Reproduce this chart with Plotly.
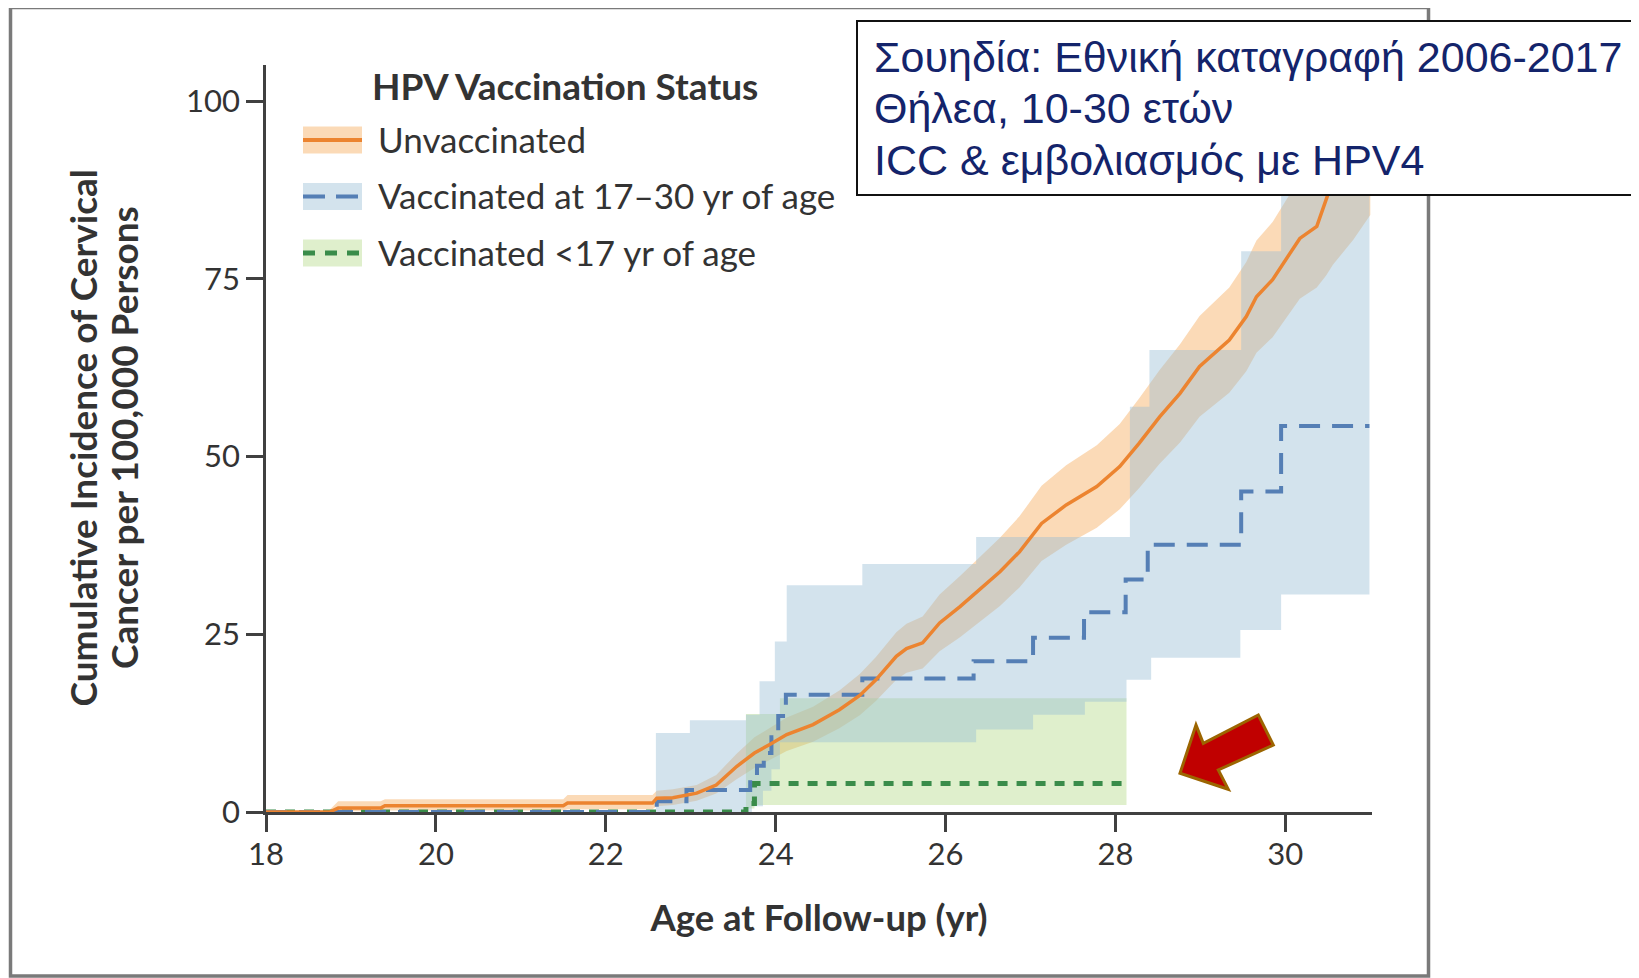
import plotly.graph_objects as go

# ---------------- data ----------------
# Unvaccinated: cumulative incidence curve and 95% band
age_unvacc = [18.00, 18.75, 18.85, 19.35, 19.40, 21.50, 21.55, 22.55, 22.60, 22.79,
              23.07, 23.30, 23.54, 23.75, 23.93, 24.13, 24.44, 24.75, 24.99, 25.18,
              25.42, 25.54, 25.73, 25.93, 26.17, 26.40, 26.64, 26.87, 27.13, 27.42,
              27.78, 28.05, 28.28, 28.52, 28.76, 28.99, 29.34, 29.54, 29.66, 29.85,
              30.00, 30.17, 30.37, 30.48, 30.56, 30.80, 31.00]
inc_unvacc = [0.0, 0.0, 0.55, 0.55, 0.87, 0.87, 1.25, 1.25, 1.95, 2.0,
              2.65, 3.8, 6.4, 8.3, 9.5, 10.9, 12.3, 14.4, 16.4, 18.6,
              21.9, 23.0, 23.8, 26.6, 28.9, 31.3, 33.8, 36.6, 40.6, 43.2,
              45.8, 48.6, 51.9, 55.6, 58.9, 62.7, 66.4, 69.7, 72.5, 74.9,
              77.7, 80.7, 82.4, 86.1, 88.9, 95.0, 101.0]
band_age_unvacc = [18.75, 18.85, 19.35, 19.40, 21.50, 21.55, 22.55, 22.60, 22.79, 23.07,
                   23.30, 23.54, 23.75, 23.93, 24.13, 24.44, 24.75, 24.99, 25.18, 25.42,
                   25.54, 25.73, 25.93, 26.17, 26.40, 26.64, 26.87, 27.13, 27.42, 27.78,
                   28.05, 28.28, 28.52, 28.76, 28.99, 29.34, 29.54, 29.66, 29.85, 30.00,
                   30.17, 30.37, 30.48, 30.56, 30.80, 31.00]
lo_unvacc = [0.0, 0.1, 0.1, 0.2, 0.2, 0.4, 0.4, 0.8, 1.0, 1.6,
             2.6, 4.6, 6.2, 7.3, 8.6, 9.9, 11.8, 13.6, 15.6, 18.6,
             19.6, 20.2, 22.6, 24.6, 26.8, 29.0, 31.6, 35.3, 37.6, 40.0,
             42.6, 45.6, 49.0, 52.0, 55.6, 59.0, 62.0, 64.6, 66.8, 69.4,
             72.2, 73.8, 75.5, 77.0, 80.5, 84.0]
hi_unvacc = [0.3, 1.5, 1.5, 1.8, 1.8, 2.4, 2.4, 3.0, 3.2, 3.8,
             5.2, 8.2, 10.5, 11.8, 13.3, 14.8, 17.1, 19.4, 21.8, 25.3,
             26.5, 27.5, 30.6, 33.2, 35.8, 38.6, 41.6, 45.9, 48.8, 51.6,
             54.6, 58.2, 62.2, 65.8, 69.8, 73.8, 77.4, 80.4, 83.0, 86.0,
             89.2, 91.0, 94.8, 97.8, 104.0, 111.0]

# Vaccinated at 17-30 yr of age (step curve) and band
age_vacc_17_30 = [18.0, 22.60, 22.95, 23.70, 23.78, 23.86, 23.95, 24.03, 24.12, 25.02,
                  26.33, 27.03, 27.63, 28.12, 28.38, 29.48, 29.95, 30.99]
inc_vacc_17_30 = [0.0, 1.5, 3.1, 4.5, 6.5, 8.3, 10.5, 13.5, 16.5, 18.8,
                  21.2, 24.5, 28.1, 32.7, 37.6, 45.1, 54.3, 54.3]
lo_age_17_30 = [22.59, 23.72, 23.85, 23.95, 24.05, 26.36, 27.03, 27.64, 28.13, 28.42, 29.47, 29.95, 30.99]
lo_vacc_17_30 = [0.0, 0.8, 3.0, 6.0, 9.8, 11.6, 13.7, 15.5, 18.6, 21.7, 25.6, 30.6, 30.6]
hi_age_17_30 = [22.59, 22.99, 23.65, 23.81, 23.99, 24.13, 25.02, 26.36, 28.17, 28.40, 29.48, 29.95, 30.99]
hi_vacc_17_30 = [11.1, 12.9, 13.7, 18.4, 24.0, 31.9, 34.9, 38.7, 57.0, 65.0, 78.9, 120.0, 120.0]

# Vaccinated <17 yr of age (step curve) and band
age_vacc_u17 = [18.0, 23.65, 23.75, 28.13]
inc_vacc_u17 = [0.0, 1.2, 4.0, 4.0]
lo_age_u17 = [23.65, 23.75, 28.13]
lo_vacc_u17 = [0.5, 1.0, 1.0]
hi_age_u17 = [23.65, 24.05, 28.13]
hi_vacc_u17 = [13.8, 16.0, 16.0]

x_ticks = [18, 20, 22, 24, 26, 28, 30]
y_ticks = [0, 25, 50, 75, 100]

series_names = ["Unvaccinated", "Vaccinated at 17\u201330 yr of age", "Vaccinated <17 yr of age"]
legend_title = "HPV Vaccination Status"
x_title = "Age at Follow-up (yr)"
y_title_lines = ["Cumulative Incidence of Cervical", "Cancer per 100,000 Persons"]
box_lines = ["Σουηδία: Εθνική καταγραφή 2006-2017", "Θήλεα, 10-30 ετών", "ICC & εμβολιασμός με HPV4"]

# ---------------- layout geometry (page pixels; page has an 8px body margin) ----------------
OFF = 8
W, H = 1639 - OFF, 978 - OFF
ML = 266 - OFF
MT = 65 - OFF
MR = W - (1372 - OFF)
MB = H - (812 - OFF)
PW = W - ML - MR
PH = H - MT - MB


def px(x):
    """page x pixel -> paper coordinate"""
    return (x - OFF - ML) / PW


def py(y):
    """page y pixel -> paper coordinate"""
    return (H - MB - (y - OFF)) / PH


ORANGE = "#EC8430"
ORANGE_BAND = "rgba(246,168,84,0.42)"
BLUE = "#557FB5"
BLUE_BAND = "rgba(150,188,212,0.42)"
GREEN = "#3A8C4A"
GREEN_BAND = "rgba(170,212,120,0.38)"
TXT = "#333333"
FONT = "Lato, 'Open Sans', sans-serif"

fig = go.Figure()


def add_band(xl, yl, xh, yh, color, shape):
    fig.add_trace(go.Scatter(x=xl, y=yl, mode="lines", line=dict(width=0, shape=shape),
                             hoverinfo="skip", showlegend=False))
    fig.add_trace(go.Scatter(x=xh, y=yh, mode="lines", line=dict(width=0, shape=shape),
                             fill="tonexty", fillcolor=color, hoverinfo="skip", showlegend=False))


add_band(band_age_unvacc, lo_unvacc, band_age_unvacc, hi_unvacc, ORANGE_BAND, "linear")
add_band(lo_age_u17, lo_vacc_u17, hi_age_u17, hi_vacc_u17, GREEN_BAND, "hv")
add_band(lo_age_17_30, lo_vacc_17_30, hi_age_17_30, hi_vacc_17_30, BLUE_BAND, "hv")

fig.add_trace(go.Scatter(x=age_vacc_u17, y=inc_vacc_u17, mode="lines", name=series_names[2],
                         line=dict(color=GREEN, width=5, dash="10px,9px", shape="hv"),
                         showlegend=False))
fig.add_trace(go.Scatter(x=age_vacc_17_30, y=inc_vacc_17_30, mode="lines", name=series_names[1],
                         line=dict(color=BLUE, width=4, dash="21px,12px", shape="hv"),
                         showlegend=False))
fig.add_trace(go.Scatter(x=age_unvacc, y=inc_unvacc, mode="lines", name=series_names[0],
                         line=dict(color=ORANGE, width=3.5), showlegend=False))

axis_common = dict(showline=True, linecolor="#404040", linewidth=2.5, ticks="outside",
                   ticklen=17, tickwidth=2.5, tickcolor="#404040", showgrid=False, zeroline=False,
                   tickfont=dict(family=FONT, size=31, color=TXT))

fig.update_xaxes(range=[18, 31.02], tickvals=x_ticks, ticktext=[str(v) for v in x_ticks],
                 ticklabelstandoff=-4,
                 title=dict(text=x_title, standoff=35,
                            font=dict(family=FONT, size=36.5, color=TXT, weight="bold")),
                 **axis_common)
fig.update_yaxes(range=[0, 105.1], tickvals=y_ticks, ticktext=[str(v) for v in y_ticks],
                 **axis_common)

shapes = []
# outer grey frame
shapes.append(dict(type="rect", xref="paper", yref="paper", x0=px(10.5), x1=px(1428.5),
                   y0=py(976), y1=py(7.5), line=dict(color="#7a7a7a", width=3.5),
                   fillcolor="rgba(0,0,0,0)", layer="above"))
# text box
shapes.append(dict(type="rect", xref="paper", yref="paper", x0=px(857), x1=px(1680),
                   y0=py(195), y1=py(21), line=dict(color="#111111", width=2),
                   fillcolor="white", layer="above"))
# red arrow
arrow_pts = [(1180, 773.3), (1196, 725), (1203.3, 743.3), (1258.3, 715),
             (1273.3, 745), (1218.3, 770), (1228.3, 789.3)]
path = "M " + " L ".join(f"{px(a):.5f},{py(b):.5f}" for a, b in arrow_pts) + " Z"
shapes.append(dict(type="path", xref="paper", yref="paper", path=path,
                   fillcolor="#C00000", line=dict(color="#9C6500", width=3), layer="above"))

# legend swatches
legend_rows = [
    (140.0, ORANGE_BAND, ORANGE, "solid", 4),
    (196.5, BLUE_BAND, BLUE, "22px,11px", 4),
    (253.0, GREEN_BAND, GREEN, "12px,10px", 5),
]
for yc, band_col, line_col, dash, lw in legend_rows:
    shapes.append(dict(type="rect", xref="paper", yref="paper", x0=px(303), x1=px(362),
                       y0=py(yc + 13.5), y1=py(yc - 13.5), line=dict(width=0),
                       fillcolor=band_col, layer="above"))
    shapes.append(dict(type="line", xref="paper", yref="paper", x0=px(303), x1=px(362),
                       y0=py(yc), y1=py(yc), line=dict(color=line_col, width=lw, dash=dash),
                       layer="above"))

annotations = []
annotations.append(dict(xref="paper", yref="paper", x=px(370), y=py(85), xanchor="left",
                        yanchor="middle", showarrow=False, text=legend_title,
                        font=dict(family=FONT, size=37, color=TXT, weight="bold")))
for (yc, *_), name in zip(legend_rows, series_names):
    annotations.append(dict(xref="paper", yref="paper", x=px(376), y=py(yc - 1.5), xanchor="left",
                            yanchor="middle", showarrow=False, text=name,
                            font=dict(family=FONT, size=35, color=TXT)))
# y axis title (two rotated lines)
for xc, line in zip([81.5, 123.0], y_title_lines):
    annotations.append(dict(xref="paper", yref="paper", x=px(xc), y=py(438), xanchor="center",
                            yanchor="middle", showarrow=False, textangle=-90, text=line,
                            font=dict(family=FONT, size=37, color=TXT, weight="bold")))
# text box lines
for yc, line in zip([56.5, 107.7, 159.5], box_lines):
    annotations.append(dict(xref="paper", yref="paper", x=px(872), y=py(yc), xanchor="left",
                            yanchor="middle", showarrow=False, align="left", text=line,
                            font=dict(family="'Liberation Sans', Arial, sans-serif", size=43,
                                      color="#14246B")))

fig.update_layout(width=W, height=H, margin=dict(l=ML, r=MR, t=MT, b=MB, autoexpand=False),
                  paper_bgcolor="white", plot_bgcolor="white", showlegend=False,
                  shapes=shapes, annotations=annotations)

fig.write_html("out.html")
